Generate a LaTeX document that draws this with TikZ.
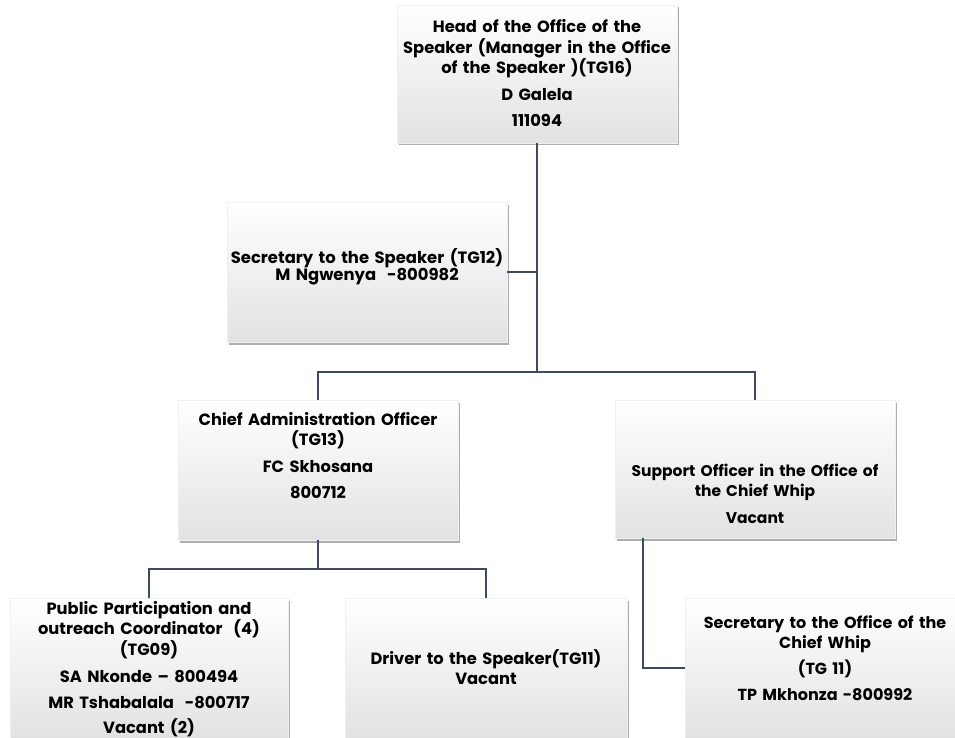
\documentclass[tikz,border=0pt]{standalone}
\usepackage{fontspec}
\setmainfont{Poppins}
\usetikzlibrary{shadows}

\definecolor{linkcol}{HTML}{3E4A60}
\definecolor{boxbottom}{HTML}{E2E2E2}

\tikzset{
  post/.style={rectangle, minimum width=280pt, minimum height=140pt,
    text width=278pt, align=center, inner sep=0pt,
    draw=gray!12, line width=0.4pt,
    top color=white, bottom color=boxbottom,
    drop shadow={shadow xshift=2pt, shadow yshift=-2.5pt, opacity=0.45, fill=black!70},
    font=\fontsize{16.3}{20.5}\selectfont\bfseries},
  % baseline of the first line, measured from the top edge of a box
  firstline/.style={text height=#1, text depth=140pt-#1},
  link/.style={draw=linkcol, line width=1.3pt}
}

\begin{document}
\begin{tikzpicture}[x=1pt, y=-1pt]
\useasboundingbox (0,0) rectangle (955,738);

% head of office
\node[post, minimum height=138pt, text height=28pt, text depth=110pt] (head) at (537,74)
  {Head of the Office of the\\ Speaker (Manager in the Office\\ of the Speaker )(TG16)\\[6pt]
   D Galela\\[6pt] 111094};

% secretary to the speaker
\node[post, firstline=61pt, font=\fontsize{16.4}{17}\selectfont\bfseries] (sec) at (367,272)
  {Secretary to the Speaker (TG12)\\ M Ngwenya \ -800982};

% second level
\node[post, firstline=25pt] (chief) at (318,470)
  {Chief Administration Officer\\ (TG13)\\[6pt] FC Skhosana\\[6pt] 800712};
\node[post, minimum height=138pt, text height=76pt, text depth=62pt,
      font=\fontsize{15.5}{20}\selectfont\bfseries] (support) at (755,469)
  {Support Officer in the Office of\\ the Chief Whip\\[7pt] Vacant};

% third level
\node[post, minimum width=278pt, text width=276pt, firstline=16pt] (public) at (149,668)
  {Public Participation and\\ outreach Coordinator \ (4)\\ (TG09)\\[7pt]
   SA Nkonde – 800494\\[5pt] MR Tshabalala \ -800717\\[5pt] Vacant (2)};
\node[post, minimum width=282pt, firstline=66pt] (driver) at (486,668)
  {Driver to the Speaker(TG11)\\ Vacant};
\node[post, firstline=30pt, font=\fontsize{16}{20.5}\selectfont\bfseries] (whip) at (825,668)
  {Secretary to the Office of the\\ Chief Whip\\[5pt] (TG 11)\\[6pt] TP Mkhonza -800992};

% reporting lines
\coordinate (j1) at (537,372);
\coordinate (j2) at (318,569);
\coordinate (w1) at (643,538);

\draw[link] (head.south) -- (j1);
\draw[link] (sec.east) -- (sec.east -| head.south);
\draw[link] (chief.north) |- (j1) -| (support.north);
\draw[link] (chief.south) -- (j2);
\draw[link] (public.north) |- (j2) -| (driver.north);
\draw[link] (w1) |- (whip.west);
\end{tikzpicture}
\end{document}
